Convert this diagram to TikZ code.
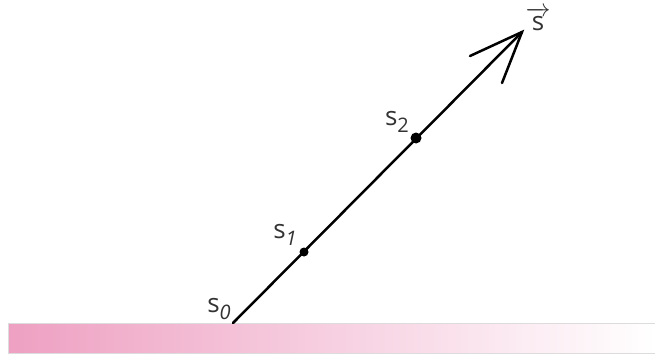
\documentclass[tikz,border=0pt]{standalone}
\usepackage{fontspec}
\usepackage{amsmath}
\setmainfont{Open Sans}
\definecolor{barpink}{RGB}{238,160,194}
\definecolor{barline}{RGB}{220,220,220}
\begin{document}
\begin{tikzpicture}[x=1pt,y=-1pt,
  vec/.style={line width=2.5pt,line cap=round},
  dot/.style={circle,fill=black,inner sep=0pt},
  lab/.style={font=\fontsize{26}{28}\selectfont\color{black!80},inner sep=0pt}]
\useasboundingbox (0,0) rectangle (655,356);
\shade[left color=barpink,right color=white,draw=barline,line width=0.6pt] (8,323) rectangle (655,353);
\coordinate (a) at (233,323);
\coordinate (tip) at (522,32);
\coordinate (h1) at (470,56);
\coordinate (h2) at (502,83);
\draw[vec] (a) -- (tip);
\draw[vec] (h1) -- (tip) -- (h2);
\node[dot,minimum size=9pt] (d1) at (304,252) {};
\node[dot,minimum size=11pt] (d2) at (416,138) {};
\node[lab] (l0) at (219,309) {s\raisebox{-0.5ex}{\fontsize{20}{22}\selectfont\itshape 0}};
\node[lab] (l1) at (285,235) {s\raisebox{-0.5ex}{\fontsize{20}{22}\selectfont\itshape 1}};
\node[lab] (l2) at (397,122) {s\raisebox{-0.5ex}{\fontsize{20}{22}\selectfont 2}};
\node[lab] (ls) at (538,19) {$\overrightarrow{\text{s}}$};
\end{tikzpicture}
\end{document}
